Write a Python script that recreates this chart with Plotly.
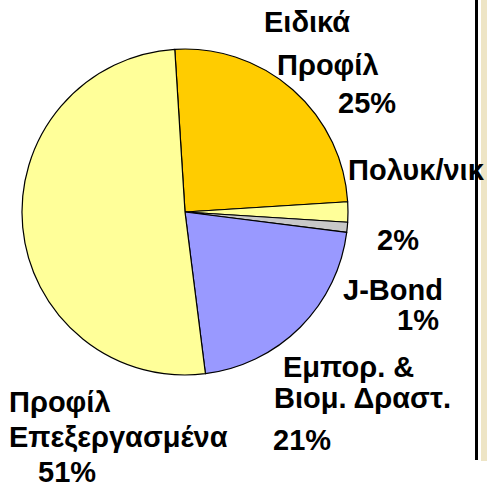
import plotly.graph_objects as go

categories = ["Ειδικά Προφίλ", "Πολυκ/νικ", "J-Bond", "Εμπορ. & Βιομ. Δραστ.", "Προφίλ Επεξεργασμένα"]
values = [25, 2, 1, 21, 51]
colors = ["#FFCC00", "#FFFF99", "#C8C8C8", "#9999FF", "#FFFF99"]

# label lines: (text, x_px, y_px)
label_lines = [
    ("Ειδικά", 307, 22), ("Προφίλ", 328, 65), ("25%", 367, 103),
    ("Πολυκ/νικ", 416, 170), ("2%", 398, 240),
    ("J-Bond", 393, 290), ("1%", 418, 320),
    ("Εμπορ. &", 348, 367), ("Βιομ. Δραστ.", 362, 398), ("21%", 302, 440),
    ("Προφίλ", 60, 402), ("Επεξεργασμένα", 118, 437), ("51%", 67, 472),
]

W, H = 487, 489
cx, cy, r = 185, 212, 163

fig = go.Figure(go.Pie(
    labels=categories, values=values, sort=False, direction="clockwise",
    rotation=-3.6, textinfo="none", hoverinfo="label+percent",
    marker=dict(colors=colors, line=dict(color="black", width=1.2)),
    domain=dict(x=[(cx - r) / W, (cx + r) / W], y=[(H - cy - r) / H, (H - cy + r) / H]),
    showlegend=False,
))

for t, x, y in label_lines:
    fig.add_annotation(text="<b>%s</b>" % t, x=x / W, y=1 - y / H, xref="paper", yref="paper",
                       showarrow=False, xanchor="center", yanchor="middle",
                       font=dict(family="Liberation Sans, Arial", size=29, color="black"))

fig.add_shape(type="rect", xref="paper", yref="paper", x0=481 / W, x1=1, y0=1 - 461 / H, y1=1,
              fillcolor="#EEE5C6", line=dict(width=0), layer="above")
fig.add_shape(type="line", xref="paper", yref="paper", x0=476.5 / W, x1=476.5 / W, y0=1 - 460 / H, y1=1,
              line=dict(color="black", width=3))

fig.update_layout(width=W, height=H, margin=dict(l=0, r=0, t=0, b=0),
                  paper_bgcolor="white", plot_bgcolor="white")
fig.write_html("out.html", config={"displayModeBar": False},
               post_script="document.body.style.margin='0';document.body.style.overflow='hidden';")
